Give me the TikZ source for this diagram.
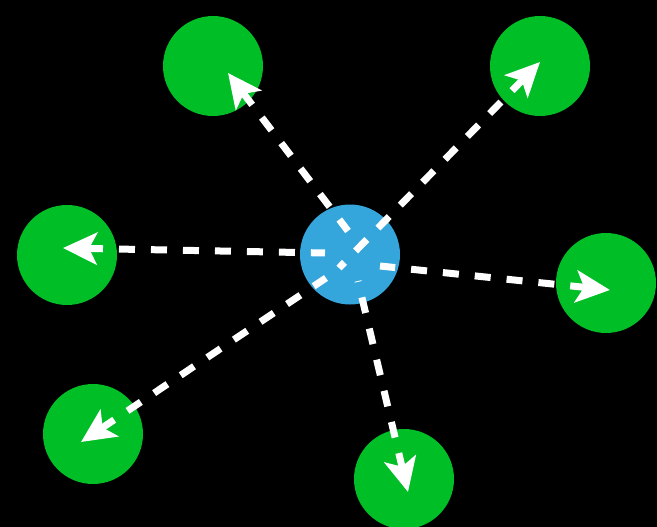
\documentclass[tikz,border=0pt]{standalone}
\usetikzlibrary{arrows.meta}
\definecolor{nodegreen}{RGB}{0,190,38}
\definecolor{nodeblue}{RGB}{52,166,220}
\begin{document}
\begin{tikzpicture}[x=1pt,y=-1pt,
  gnode/.style={circle,fill=nodegreen,minimum size=100pt,inner sep=0pt},
  bnode/.style={circle,fill=nodeblue,minimum size=100pt,inner sep=0pt},
  link/.style={white,line width=7pt,dash pattern=on 16pt off 16pt,
    {Stealth[length=34pt,width=32pt,inset=8pt]}-}]
\fill[black] (0,0) rectangle (657,527);
\useasboundingbox (0,0) rectangle (657,527);
\node[bnode] (c) at (350,254.5) {};
\node[gnode] (g1) at (213,66) {};
\node[gnode] (g2) at (540,66) {};
\node[gnode] (g3) at (67,255) {};
\node[gnode] (g4) at (606,283) {};
\node[gnode] (g5) at (93,434) {};
\node[gnode] (g6) at (404,479) {};
\coordinate (t1) at (228,73);
\coordinate (t2) at (540,62);
\coordinate (t3) at (63,248);
\coordinate (t4) at (610,290);
\coordinate (t5) at (81,442);
\coordinate (t6) at (408,492);
\coordinate (s1) at (348,231);
\coordinate (s2) at (339,268);
\coordinate (s3) at (325,253);
\coordinate (s4) at (380,266);
\coordinate (s5) at (326,278);
\coordinate (s6) at (358,281);
\foreach \i in {1,...,6} \draw[link] (t\i) -- (s\i);
\end{tikzpicture}
\end{document}
